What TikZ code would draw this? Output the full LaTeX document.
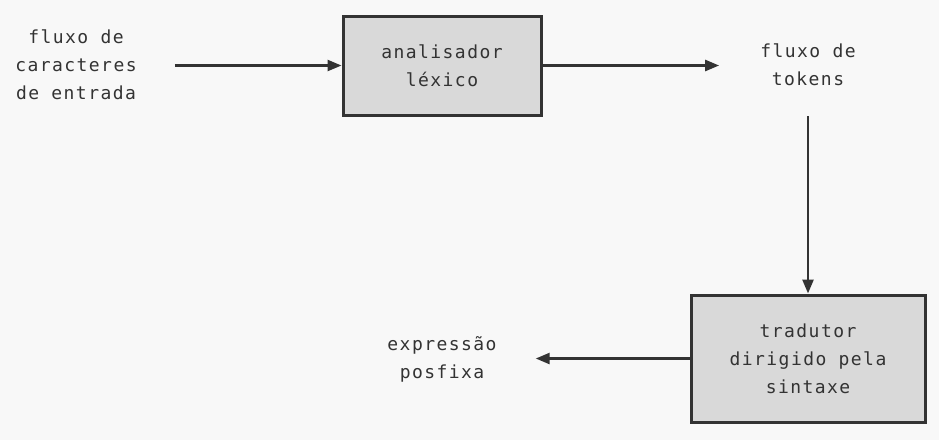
\documentclass[tikz,border=0pt]{standalone}
\usepackage{fontspec}
\usepackage{tikz}
\usetikzlibrary{arrows.meta,positioning}
\newfontfamily\diafont[LetterSpace=8]{DejaVu Sans Mono}
\definecolor{ink}{HTML}{333333}
\definecolor{boxfill}{HTML}{D9D9D9}
\definecolor{paper}{HTML}{F8F8F8}
\tikzset{  proc/.style={draw=ink,fill=boxfill,line width=3pt,align=center,text=ink,font=\diafont\fontsize{18}{28}\selectfont},
  lbl/.style={align=center,inner sep=0pt,text=ink,font=\diafont\fontsize{18}{28}\selectfont},
  flow/.style={draw=ink,line width=2.5pt,-{Triangle[length=14pt,width=11pt]}} }

\begin{document}
\begin{tikzpicture}[x=1pt,y=-1pt]
   \fill[paper] (0,0) rectangle (939,440);
   \useasboundingbox (0,0) rectangle (939,440);
   \node[proc,minimum width=198pt,minimum height=99pt] (lex) at (442,65.5) {analisador\\léxico};
   \node[lbl] (in) at (76,65) {fluxo de\\caracteres\\de entrada};
   \node[lbl] (tok) at (808,65) {fluxo de\\tokens};
   \node[proc,minimum width=234pt,minimum height=127pt] (trad) at (808,358.5) {tradutor\\dirigido pela\\sintaxe};
   \node[lbl] (out) at (442,359) {expressão\\posfixa};
   \draw[flow,shorten <=38pt] (in.east|-lex) -- (lex);
   \draw[flow,shorten >=41pt] (lex) -- (tok.west|-lex);
   \draw[flow,shorten <=30pt] (tok) -- (trad);
   \draw[flow,shorten >=39pt] (trad) -- (out.east|-trad);
\end{tikzpicture}
\end{document}
